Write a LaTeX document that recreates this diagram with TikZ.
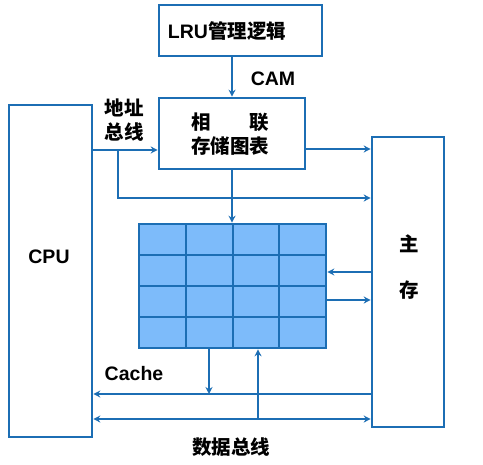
\documentclass[tikz,border=0pt]{standalone}
\usepackage{fontspec}
\setmainfont{Liberation Sans}
\newfontfamily\cjk{Noto Sans CJK SC}
\usetikzlibrary{arrows.meta}
\definecolor{lineblue}{RGB}{28,110,180}
\definecolor{cellblue}{RGB}{125,187,250}
\tikzset{
  box/.style={draw=lineblue, line width=2.6bp, fill=white, inner sep=0pt},
  arr/.style={draw=lineblue, line width=2bp, -{Stealth[length=7bp,width=7bp]}},
  darr/.style={draw=lineblue, line width=2bp, {Stealth[length=7bp,width=7bp]}-{Stealth[length=7bp,width=7bp]}},
  gridline/.style={draw=lineblue, line width=2.6bp},
  lbl/.style={font=\fontsize{19.5bp}{24bp}\selectfont\bfseries, inner sep=0pt, align=center},
}
\begin{document}
\begin{tikzpicture}[x=1bp,y=-1bp]
\useasboundingbox (0,0) rectangle (483,465);
% boxes
\node[box, minimum width=163bp, minimum height=51bp] (lru) at (240.5,30.5) {};
\node[lbl] (lrut) at (227,31) {LRU{\cjk 管理逻辑}};
\node[box, minimum width=146bp, minimum height=71bp] (assoc) at (232,133.5) {};
\node[lbl] (assoct) at (230,134) {\cjk 相\hspace{2em}联\\ \cjk 存储图表};
\node[box, minimum width=83bp, minimum height=332bp] (cpu) at (50.5,271) {};
\node[lbl] (cput) at (49,257) {CPU};
\node[box, minimum width=72bp, minimum height=290bp] (mem) at (408,282) {};
\node[lbl] (memt) at (409,267) {\cjk 主\\[22bp]\cjk 存};
% grid
\node[draw=lineblue, line width=2.6bp, fill=cellblue, minimum width=187bp, minimum height=124bp, inner sep=0pt] (grid) at (232.5,286) {};
\foreach \gx in {186,233,279} \draw[gridline] (\gx,224) -- (\gx,348);
\foreach \gy in {255,286,317} \draw[gridline] (139,\gy) -- (326,\gy);
% labels
\node[lbl] (cam) at (273,79) {CAM};
\node[lbl] (addr) at (124,120) {\cjk 地址\\ \cjk 总线};
\node[lbl] (cache) at (134,374) {Cache};
\node[lbl] (dbus) at (231,447) {\cjk 数据总线};
% connectors
\coordinate (ab) at (92,150);
\coordinate (br) at (118,150);
\coordinate (abr) at (118,198);
\draw[arr] (lru.south -| assoc.north) -- (assoc.north);
\draw[arr] (cpu.east |- ab) -- (assoc.west |- ab);
\draw[arr] (br) -- (abr) -- (mem.west |- abr);
\draw[arr] (assoc.east |- 0,149) -- (mem.west |- 0,149);
\draw[arr] (assoc.south) -- (grid.north -| assoc.south);
\draw[arr] (mem.west |- 0,272) -- (grid.east |- 0,272);
\draw[arr] (grid.east |- 0,300) -- (mem.west |- 0,300);
\coordinate (cb) at (209,394);
\coordinate (db) at (258,419);
\draw[arr] (mem.west |- cb) -- (cpu.east |- cb);
\draw[arr] (grid.south -| cb) -- (cb);
\draw[darr] (cpu.east |- db) -- (mem.west |- db);
\draw[arr] (db) -- (grid.south -| db);
\end{tikzpicture}
\end{document}
